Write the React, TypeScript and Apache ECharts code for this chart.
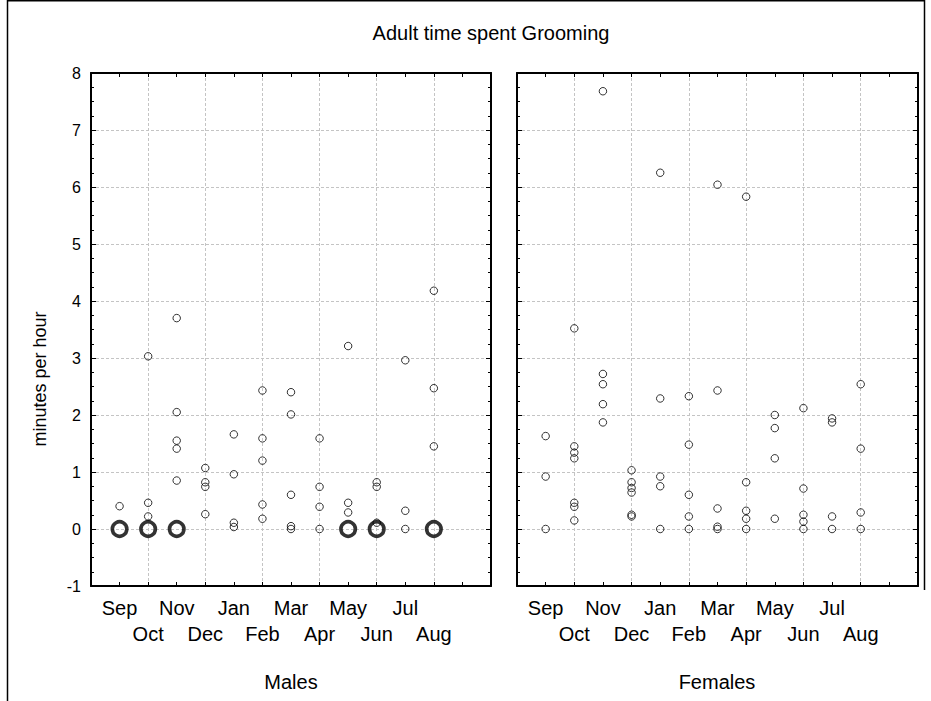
import React, { useEffect, useRef } from "react";
import * as echarts from "echarts";

const chartTitle = "Adult time spent Grooming";
const yAxisLabel = "minutes per hour";
const panelNames = ["Males", "Females"];
const months = ["Sep", "Oct", "Nov", "Dec", "Jan", "Feb", "Mar", "Apr", "May", "Jun", "Jul", "Aug"];
const yMin = -1;
const yMax = 8;

// Males: individual values per month (Sep..Aug)
const malesValues: number[][] = [
  [0.4],
  [3.03, 0.46, 0.22],
  [3.7, 2.05, 1.55, 1.41, 0.85],
  [1.07, 0.82, 0.74, 0.26],
  [1.66, 0.96, 0.11, 0.035],
  [2.43, 1.59, 1.2, 0.43, 0.18],
  [2.4, 2.01, 0.6, 0.05, 0.0],
  [1.59, 0.74, 0.39, 0.0],
  [3.21, 0.46, 0.29],
  [0.82, 0.74, 0.11],
  [2.96, 0.32, 0.0],
  [4.18, 2.47, 1.45],
];
// Males: months with many stacked zero values (drawn as bold circles)
const malesZeroMonths = ["Sep", "Oct", "Nov", "May", "Jun", "Aug"];
const malesZeroValue = 0;

// Females: individual values per month (Sep..Aug)
const femalesValues: number[][] = [
  [1.63, 0.92, 0.0],
  [3.52, 1.45, 1.34, 1.24, 0.46, 0.39, 0.15],
  [7.68, 2.72, 2.54, 2.19, 1.87],
  [1.03, 0.82, 0.72, 0.64, 0.25, 0.22],
  [6.25, 2.29, 0.92, 0.75, 0.0],
  [2.33, 1.48, 0.6, 0.22, 0.0],
  [6.04, 2.43, 0.36, 0.04, 0.0],
  [5.83, 0.82, 0.32, 0.18, 0.0],
  [2.0, 1.77, 1.24, 0.18],
  [2.12, 0.71, 0.25, 0.13, 0.0],
  [1.94, 1.87, 0.22, 0.0],
  [2.54, 1.41, 0.29, 0.0],
];

const FONT = "'Liberation Sans', Arial, sans-serif";

function toPoints(values: number[][]): number[][] {
  const pts: number[][] = [];
  values.forEach((arr, i) => arr.forEach((v) => pts.push([i + 1, v])));
  return pts;
}

function xAxisDef(gridIndex: number, position: string, main: boolean) {
  return {
    type: "value",
    gridIndex,
    position,
    min: 0,
    max: months.length + 2,
    interval: 1,
    z: 0,
    axisLine: { show: true, onZero: false, lineStyle: { color: "#000", width: 2 } },
    axisTick: { show: true, inside: true, length: 4, lineStyle: { color: "#000", width: 1 } },
    axisLabel: main
      ? {
          show: true,
          margin: 9,
          color: "#000",
          fontFamily: FONT,
          fontSize: 20,
          lineHeight: 26,
          formatter: (v: number) => {
            const i = Math.round(v) - 1;
            if (i < 0 || i >= months.length) return "";
            return i % 2 === 0 ? months[i] : "\n" + months[i];
          },
        }
      : { show: false },
    splitLine: main
      ? {
          show: true,
          lineStyle: { color: ["#c4c4c4", "rgba(0,0,0,0)"], type: [3, 2], width: 1 },
        }
      : { show: false },
  };
}

function yAxisDef(gridIndex: number, position: string, labels: boolean, split: boolean) {
  return {
    type: "value",
    gridIndex,
    position,
    min: yMin,
    max: yMax,
    interval: 1,
    z: 1,
    axisLine: { show: true, onZero: false, lineStyle: { color: "#000", width: 2 } },
    axisTick: { show: true, inside: true, length: 5, lineStyle: { color: "#000", width: 1 } },
    minorTick: { show: true, splitNumber: 4, length: 3, lineStyle: { color: "#000", width: 1 } },
    axisLabel: labels
      ? { show: true, margin: 10, color: "#000", fontFamily: FONT, fontSize: 16 }
      : { show: false },
    splitLine: split
      ? {
          show: true,
          showMinLine: false,
          showMaxLine: false,
          lineStyle: { color: "#c4c4c4", type: [3, 2], width: 1 },
        }
      : { show: false },
  };
}

const ringStyle = { color: "rgba(0,0,0,0)", borderColor: "#000", borderWidth: 1 };

export default function App() {
  const ref = useRef<HTMLDivElement>(null);
  useEffect(() => {
    if (!ref.current) return;
    const chart = echarts.init(ref.current, undefined, { renderer: "svg" });
    const zeroPts = malesZeroMonths.map((m) => [months.indexOf(m) + 1, malesZeroValue]);
    chart.setOption({
      animation: false,
      backgroundColor: "#fff",
      grid: [
        { left: 91, top: 73, width: 400, height: 513 },
        { left: 517, top: 73, width: 401, height: 513 },
      ],
      xAxis: [
        xAxisDef(0, "bottom", true),
        xAxisDef(0, "top", false),
        xAxisDef(1, "bottom", true),
        xAxisDef(1, "top", false),
      ],
      yAxis: [
        yAxisDef(0, "left", true, true),
        yAxisDef(0, "right", false, false),
        yAxisDef(1, "left", false, true),
        yAxisDef(1, "right", false, false),
      ],
      series: [
        {
          name: "Males",
          type: "scatter",
          xAxisIndex: 0,
          yAxisIndex: 0,
          z: 3,
          symbol: "circle",
          symbolSize: 7.5,
          itemStyle: ringStyle,
          data: toPoints(malesValues),
        },
        {
          name: "Males zeros",
          type: "scatter",
          xAxisIndex: 0,
          yAxisIndex: 0,
          z: 3,
          symbol: "circle",
          symbolSize: 14.5,
          itemStyle: { color: "rgba(0,0,0,0)", borderColor: "#000", borderWidth: 3.6 },
          data: zeroPts,
        },
        {
          name: "Females",
          type: "scatter",
          xAxisIndex: 2,
          yAxisIndex: 2,
          z: 3,
          symbol: "circle",
          symbolSize: 7.5,
          itemStyle: ringStyle,
          data: toPoints(femalesValues),
        },
      ],
      graphic: [
        { type: "line", shape: { x1: 7.5, y1: 0, x2: 7.5, y2: 701 }, style: { stroke: "#000", lineWidth: 1.5 } },
        { type: "line", shape: { x1: 7, y1: 0.75, x2: 925, y2: 0.75 }, style: { stroke: "#000", lineWidth: 1.5 } },
        { type: "line", shape: { x1: 924.5, y1: 0, x2: 924.5, y2: 590 }, style: { stroke: "#000", lineWidth: 1.5 } },
        {
          type: "text",
          x: 491,
          y: 33,
          style: {
            text: chartTitle,
            fill: "#000",
            fontFamily: FONT,
            fontSize: 20,
            align: "center",
            verticalAlign: "middle",
            textAlign: "center",
            textVerticalAlign: "middle",
          },
        },
        {
          type: "text",
          x: 40,
          y: 379,
          rotation: Math.PI / 2,
          style: {
            text: yAxisLabel,
            fill: "#000",
            fontFamily: FONT,
            fontSize: 18,
            align: "center",
            verticalAlign: "middle",
            textAlign: "center",
            textVerticalAlign: "middle",
          },
        },
        {
          type: "text",
          x: 291,
          y: 682,
          style: {
            text: panelNames[0],
            fill: "#000",
            fontFamily: FONT,
            fontSize: 20,
            align: "center",
            verticalAlign: "middle",
            textAlign: "center",
            textVerticalAlign: "middle",
          },
        },
        {
          type: "text",
          x: 717,
          y: 682,
          style: {
            text: panelNames[1],
            fill: "#000",
            fontFamily: FONT,
            fontSize: 20,
            align: "center",
            verticalAlign: "middle",
            textAlign: "center",
            textVerticalAlign: "middle",
          },
        },
      ],
    });
    return () => chart.dispose();
  }, []);
  return (
    <div
      ref={ref}
      style={{ position: "fixed", left: 0, top: 0, width: 931, height: 701, background: "#fff" }}
    />
  );
}
